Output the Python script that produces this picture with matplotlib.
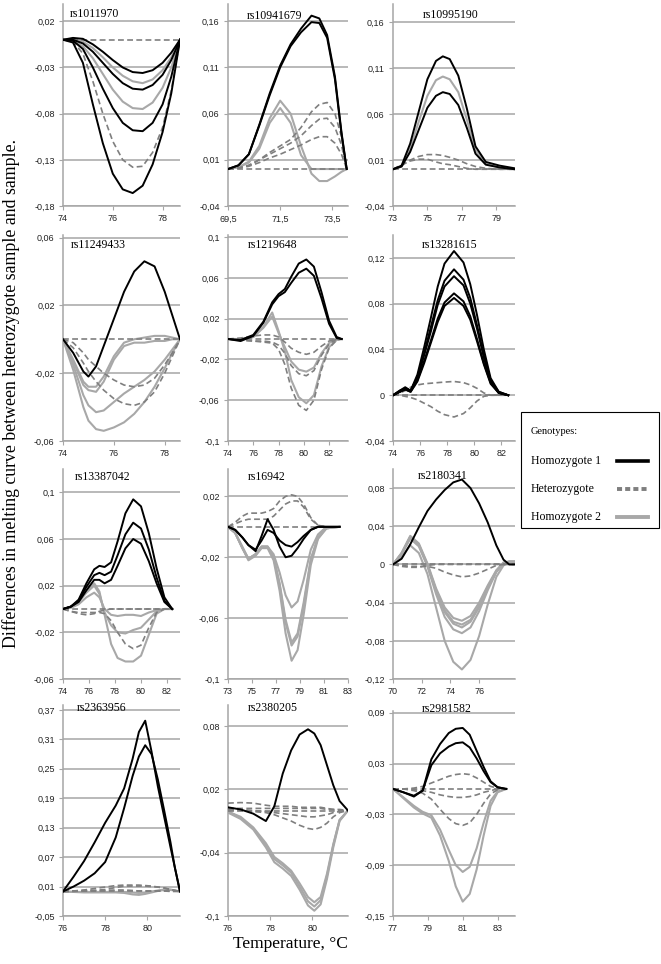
import matplotlib
matplotlib.use('Agg')
import matplotlib.pyplot as plt
from matplotlib.lines import Line2D
from matplotlib.patches import Rectangle

# ---- data (x = temperature, y = difference) ----
# rs1011970
p1_x = [74, 74.4, 74.8, 75.2, 75.6, 76.0, 76.4, 76.8, 77.2, 77.6, 78.0, 78.35, 78.7]
p1_hom1 = [[0, 0.002, 0.001, -0.005, -0.013, -0.022, -0.030, -0.035, -0.036, -0.033, -0.025, -0.014, 0],
           [0, 0.0, -0.004, -0.013, -0.025, -0.037, -0.047, -0.053, -0.054, -0.049, -0.038, -0.022, 0],
           [0, -0.001, -0.01, -0.03, -0.053, -0.074, -0.09, -0.098, -0.099, -0.09, -0.07, -0.04, 0],
           [0, -0.003, -0.025, -0.07, -0.112, -0.145, -0.162, -0.166, -0.158, -0.135, -0.1, -0.058, 0]]
p1_het = [[0] * 13,
          [0, -0.002, -0.015, -0.045, -0.08, -0.11, -0.13, -0.138, -0.137, -0.122, -0.095, -0.055, 0]]
p1_hom2 = [[0, 0.001, -0.002, -0.009, -0.019, -0.03, -0.039, -0.045, -0.047, -0.043, -0.033, -0.019, 0],
           [0, -0.001, -0.007, -0.02, -0.037, -0.054, -0.067, -0.074, -0.075, -0.068, -0.052, -0.03, 0]]

# rs10941679
p2_x = [69.5, 69.9, 70.3, 70.7, 71.1, 71.5, 71.9, 72.3, 72.7, 73.0, 73.3, 73.6, 73.85, 74.05]
p2_hom1 = [[0, 0.004, 0.016, 0.048, 0.082, 0.112, 0.135, 0.152, 0.166, 0.163, 0.145, 0.1, 0.04, 0],
           [0, 0.004, 0.016, 0.047, 0.08, 0.11, 0.133, 0.148, 0.159, 0.158, 0.142, 0.097, 0.038, 0]]
p2_het = [[0] * 14,
          [0, 0.001, 0.004, 0.01, 0.018, 0.025, 0.032, 0.045, 0.062, 0.07, 0.072, 0.06, 0.035, 0],
          [0, 0.001, 0.004, 0.01, 0.016, 0.022, 0.028, 0.036, 0.047, 0.054, 0.055, 0.045, 0.026, 0],
          [0, 0.001, 0.003, 0.007, 0.012, 0.016, 0.021, 0.026, 0.032, 0.035, 0.035, 0.028, 0.016, 0]]
p2_hom2 = [[0, 0.002, 0.008, 0.025, 0.055, 0.074, 0.06, 0.025, -0.005, -0.013, -0.013, -0.008, -0.003, 0],
           [0, 0.002, 0.007, 0.022, 0.05, 0.066, 0.05, 0.015, 0.0, 0, 0, 0, 0, 0]]

# rs10995190
p3_x = [73, 73.5, 74.0, 74.5, 75.0, 75.5, 75.9, 76.3, 76.8, 77.3, 77.8, 78.4, 79.2, 80.1]
p3_hom1 = [[0, 0.004, 0.028, 0.063, 0.098, 0.118, 0.123, 0.12, 0.102, 0.066, 0.025, 0.008, 0.004, 0.001],
           [0, 0.003, 0.019, 0.043, 0.067, 0.08, 0.084, 0.082, 0.07, 0.045, 0.017, 0.005, 0.002, 0.0]]
p3_het = [[0] * 14,
          [0, 0.004, 0.01, 0.014, 0.016, 0.016, 0.015, 0.013, 0.01, 0.006, 0.003, 0.001, 0, 0],
          [0, 0.005, 0.009, 0.011, 0.011, 0.008, 0.006, 0.005, 0.003, 0.001, 0, 0, 0, 0]]
p3_hom2 = [[0, 0.003, 0.023, 0.052, 0.08, 0.097, 0.101, 0.098, 0.084, 0.054, 0.021, 0.006, 0.002, 0.0]]

# rs11249433
p4_x = [74, 74.4, 74.8, 75.0, 75.3, 75.6, 76.0, 76.4, 76.8, 77.2, 77.6, 78.0, 78.3, 78.6]
p4_hom1 = [[0, -0.008, -0.019, -0.022, -0.016, -0.004, 0.012, 0.028, 0.04, 0.046, 0.043, 0.028, 0.014, 0]]
p4_het = [[0] * 14,
          [0, -0.002, -0.008, -0.012, -0.016, -0.02, -0.024, -0.027, -0.028, -0.027, -0.023, -0.015, -0.008, 0],
          [0, -0.005, -0.014, -0.019, -0.025, -0.03, -0.035, -0.038, -0.039, -0.037, -0.031, -0.02, -0.01, 0]]
p4_hom2 = [[0, -0.012, -0.025, -0.028, -0.028, -0.022, -0.01, -0.002, 0.0, 0.001, 0.002, 0.002, 0.001, 0],
           [0, -0.013, -0.027, -0.03, -0.031, -0.025, -0.012, -0.004, -0.002, -0.002, -0.001, -0.001, 0, 0],
           [0, -0.015, -0.033, -0.039, -0.043, -0.042, -0.037, -0.032, -0.028, -0.024, -0.019, -0.012, -0.006, 0],
           [0, -0.018, -0.04, -0.048, -0.053, -0.054, -0.052, -0.049, -0.044, -0.037, -0.028, -0.017, -0.008, 0]]

# rs1219648
p5_x = [74, 75, 76, 76.8, 77.5, 78.0, 78.5, 79.0, 79.6, 80.2, 80.8, 81.4, 82.0, 82.6, 83.0]
p5_hom1 = [[0, -0.001, 0.004, 0.017, 0.036, 0.044, 0.049, 0.061, 0.074, 0.078, 0.071, 0.046, 0.018, 0.002, 0],
           [0, -0.002, 0.003, 0.016, 0.034, 0.042, 0.046, 0.055, 0.065, 0.069, 0.062, 0.04, 0.015, 0.001, 0]]
p5_het = [[0] * 15,
          [0, -0.001, -0.002, -0.003, -0.004, -0.01, -0.025, -0.048, -0.065, -0.07, -0.06, -0.03, -0.009, -0.001, 0],
          [0, -0.001, -0.002, -0.002, -0.003, -0.006, -0.014, -0.026, -0.034, -0.036, -0.031, -0.016, -0.005, 0, 0],
          [0, 0.001, 0.003, 0.004, 0.004, 0.002, -0.003, -0.009, -0.013, -0.015, -0.013, -0.007, -0.002, 0, 0]]
p5_hom2 = [[0, 0.0, 0.002, 0.012, 0.026, 0.008, -0.012, -0.04, -0.057, -0.063, -0.055, -0.027, -0.008, -0.001, 0],
           [0, 0.0, 0.002, 0.011, 0.022, 0.006, -0.008, -0.022, -0.03, -0.032, -0.028, -0.014, -0.004, 0, 0]]

# rs13281615
p6_x = [74, 74.5, 74.9, 75.3, 75.8, 76.3, 76.8, 77.3, 77.8, 78.5, 79.2, 79.7, 80.2, 80.7, 81.2, 81.8, 82.5]
p6_hom1 = [[0, 0.004, 0.007, 0.004, 0.018, 0.042, 0.068, 0.095, 0.115, 0.126, 0.116, 0.097, 0.07, 0.04, 0.015, 0.003, 0],
           [0, 0.004, 0.006, 0.004, 0.016, 0.037, 0.06, 0.083, 0.1, 0.11, 0.101, 0.085, 0.061, 0.035, 0.013, 0.003, 0],
           [0, 0.003, 0.006, 0.004, 0.015, 0.035, 0.056, 0.079, 0.095, 0.104, 0.096, 0.08, 0.058, 0.033, 0.012, 0.002, 0],
           [0, 0.003, 0.005, 0.003, 0.013, 0.03, 0.048, 0.067, 0.081, 0.089, 0.082, 0.069, 0.049, 0.028, 0.011, 0.002, 0],
           [0, 0.003, 0.005, 0.003, 0.012, 0.028, 0.046, 0.064, 0.078, 0.085, 0.078, 0.066, 0.047, 0.027, 0.01, 0.002, 0]]
p6_het = [[0] * 17,
          [0, 0.002, 0.004, 0.007, 0.009, 0.01, 0.0105, 0.011, 0.0115, 0.012, 0.011, 0.009, 0.006, 0.002, 0, 0, 0],
          [0, 0.0, -0.001, -0.002, -0.004, -0.007, -0.01, -0.014, -0.017, -0.019, -0.016, -0.011, -0.005, -0.001, 0, 0, 0]]
p6_hom2 = []

# rs13387042
p7_x = [74, 74.6, 75.2, 75.8, 76.4, 76.8, 77.2, 77.7, 78.2, 78.8, 79.4, 80.0, 80.6, 81.2, 81.8, 82.4]
p7_hom1 = [[0, 0.002, 0.008, 0.022, 0.034, 0.037, 0.036, 0.04, 0.058, 0.082, 0.094, 0.088, 0.065, 0.035, 0.01, 0],
           [0, 0.002, 0.007, 0.019, 0.029, 0.031, 0.029, 0.032, 0.046, 0.064, 0.074, 0.069, 0.051, 0.027, 0.007, 0],
           [0, 0.002, 0.006, 0.016, 0.025, 0.025, 0.022, 0.025, 0.037, 0.052, 0.06, 0.056, 0.041, 0.022, 0.006, 0]]
p7_het = [[0] * 16,
          [0, -0.002, -0.003, -0.003, -0.003, -0.003, -0.004, -0.01, -0.02, -0.03, -0.034, -0.031, -0.016, -0.003, 0, 0],
          [0, -0.002, -0.004, -0.005, -0.004, -0.002, -0.001, 0, 0, 0, 0, 0, 0, 0, 0, 0]]
p7_hom2 = [[0, 0.002, 0.006, 0.015, 0.022, 0.015, -0.005, -0.03, -0.042, -0.045, -0.045, -0.04, -0.022, -0.004, 0, 0],
           [0, 0.002, 0.006, 0.014, 0.02, 0.013, -0.003, -0.014, -0.02, -0.021, -0.018, -0.016, -0.009, -0.002, 0, 0],
           [0, 0.001, 0.004, 0.01, 0.014, 0.01, 0.0, -0.005, -0.006, -0.005, -0.005, -0.006, -0.003, -0.001, 0, 0]]

# rs16942
p8_x = [73, 73.6, 74.2, 74.7, 75.3, 75.8, 76.3, 76.8, 77.3, 77.8, 78.3, 78.8, 79.3, 79.9, 80.5, 81.2, 82.3]
p8_hom1 = [[0, -0.002, -0.007, -0.012, -0.016, -0.006, 0.005, -0.002, -0.013, -0.02, -0.019, -0.014, -0.008, -0.002, 0, 0, 0],
           [0, -0.002, -0.007, -0.012, -0.015, -0.009, -0.002, -0.004, -0.009, -0.012, -0.013, -0.01, -0.006, -0.002, 0, 0, 0]]
p8_het = [[0] * 17,
          [0, 0.003, 0.007, 0.009, 0.009, 0.009, 0.01, 0.012, 0.017, 0.02, 0.021, 0.02, 0.015, 0.006, 0.001, 0, 0],
          [0, 0.002, 0.004, 0.005, 0.005, 0.005, 0.005, 0.007, 0.011, 0.015, 0.017, 0.017, 0.013, 0.005, 0.001, 0, 0]]
p8_hom2 = [[0, -0.004, -0.014, -0.022, -0.019, -0.014, -0.014, -0.022, -0.042, -0.07, -0.088, -0.081, -0.058, -0.025, -0.008, -0.001, 0],
           [0, -0.004, -0.014, -0.021, -0.018, -0.013, -0.013, -0.02, -0.038, -0.063, -0.078, -0.072, -0.052, -0.022, -0.007, -0.001, 0],
           [0, -0.004, -0.014, -0.021, -0.018, -0.013, -0.013, -0.02, -0.037, -0.061, -0.076, -0.07, -0.05, -0.021, -0.007, -0.001, 0],
           [0, -0.004, -0.013, -0.021, -0.018, -0.013, -0.013, -0.018, -0.03, -0.045, -0.053, -0.049, -0.035, -0.015, -0.005, 0, 0]]

# rs2180341
p9_x = [70, 70.6, 71.2, 71.8, 72.4, 73.0, 73.6, 74.2, 74.8, 75.4, 76.0, 76.6, 77.2, 77.7, 78.1, 78.5]
p9_hom1 = [[0, 0.006, 0.021, 0.039, 0.056, 0.068, 0.078, 0.086, 0.089, 0.08, 0.064, 0.044, 0.02, 0.005, 0.0, 0.0]]
p9_het = [[0] * 16,
          [0, -0.001, -0.002, -0.002, -0.002, -0.004, -0.008, -0.011, -0.013, -0.012, -0.009, -0.005, -0.001, 0, 0, 0],
          [0, -0.002, -0.003, -0.003, -0.001, 0, 0, 0, 0, 0, 0, 0, 0, 0, 0, 0]]
p9_hom2 = [[0, 0.012, 0.03, 0.022, 0.001, -0.025, -0.045, -0.056, -0.059, -0.054, -0.04, -0.022, -0.006, 0.002, 0.003, 0.003],
           [0, 0.012, 0.029, 0.021, 0.0, -0.027, -0.048, -0.06, -0.063, -0.058, -0.043, -0.024, -0.007, 0.002, 0.003, 0.003],
           [0, 0.011, 0.028, 0.02, -0.001, -0.028, -0.05, -0.062, -0.066, -0.06, -0.045, -0.025, -0.007, 0.001, 0.003, 0.003],
           [0, 0.011, 0.027, 0.019, -0.002, -0.031, -0.055, -0.068, -0.072, -0.066, -0.049, -0.027, -0.008, 0.001, 0.003, 0.003],
           [0, 0.008, 0.02, 0.012, -0.01, -0.045, -0.08, -0.102, -0.11, -0.1, -0.075, -0.042, -0.013, -0.001, 0.002, 0.002]]

# rs2363956
p10_x = [76, 76.5, 77, 77.5, 78, 78.5, 78.9, 79.3, 79.6, 79.9, 80.2, 80.5, 80.8, 81.1, 81.3, 81.55]
p10_hom1 = [[0, 0.03, 0.062, 0.1, 0.14, 0.175, 0.21, 0.27, 0.325, 0.348, 0.285, 0.214, 0.152, 0.09, 0.05, 0],
            [0, 0.01, 0.022, 0.037, 0.06, 0.11, 0.17, 0.235, 0.275, 0.298, 0.28, 0.228, 0.165, 0.1, 0.05, 0]]
p10_het = [[0] * 16,
           [0, 0.001, 0.003, 0.006, 0.009, 0.012, 0.013, 0.013, 0.013, 0.012, 0.011, 0.009, 0.007, 0.004, 0.002, 0],
           [0, 0.0, 0.001, 0.002, 0.004, 0.008, 0.011, 0.011, 0.011, 0.011, 0.01, 0.009, 0.007, 0.004, 0.002, 0],
           [0, 0.001, 0.002, 0.002, 0.002, 0.003, 0.003, 0.002, 0.001, 0.001, 0.001, 0.001, 0.001, 0, 0, 0]]
p10_hom2 = [[0, -0.001, -0.002, -0.002, -0.002, -0.002, -0.003, -0.006, -0.007, -0.005, -0.002, 0.001, 0.003, 0.003, 0.002, 0],
            [0, -0.001, -0.001, -0.001, -0.001, -0.001, -0.001, -0.002, -0.003, -0.002, 0.0, 0.002, 0.004, 0.004, 0.002, 0]]

# rs2380205
p11_x = [76, 76.6, 77.2, 77.8, 78.2, 78.6, 79.0, 79.4, 79.8, 80.1, 80.4, 80.7, 81.0, 81.3, 81.7]
p11_hom1 = [[0.003, 0.001, -0.003, -0.01, 0.004, 0.035, 0.057, 0.072, 0.077, 0.073, 0.062, 0.043, 0.024, 0.009, 0]]
p11_het = [[0.0] * 15,
           [0.007, 0.0075, 0.007, 0.005, 0.004, 0.004, 0.004, 0.003, 0.003, 0.003, 0.003, 0.002, 0.001, 0.001, 0],
           [0.002, 0.002, 0.002, 0.002, 0.002, 0.002, 0.002, 0.002, 0.002, 0.002, 0.002, 0.001, 0.001, 0, 0],
           [0.001, 0.001, 0.0, -0.001, -0.002, -0.003, -0.004, -0.005, -0.006, -0.006, -0.005, -0.004, -0.002, -0.001, 0],
           [0.0, 0.0, -0.001, -0.002, -0.004, -0.007, -0.01, -0.014, -0.017, -0.018, -0.016, -0.012, -0.006, -0.002, 0]]
p11_hom2 = [[-0.001, -0.006, -0.016, -0.031, -0.044, -0.05, -0.057, -0.069, -0.082, -0.087, -0.082, -0.06, -0.032, -0.009, 0],
            [-0.001, -0.007, -0.017, -0.033, -0.046, -0.052, -0.059, -0.072, -0.086, -0.091, -0.085, -0.062, -0.033, -0.009, 0],
            [-0.002, -0.008, -0.018, -0.035, -0.049, -0.055, -0.062, -0.075, -0.09, -0.095, -0.089, -0.065, -0.035, -0.01, 0]]

# rs2981582
p12_x = [77, 77.6, 78.2, 78.7, 79.2, 79.7, 80.2, 80.6, 81.0, 81.4, 81.8, 82.2, 82.6, 83.0, 83.5]
p12_hom1 = [[0, -0.004, -0.009, -0.002, 0.035, 0.053, 0.066, 0.071, 0.072, 0.064, 0.045, 0.026, 0.009, 0.002, 0],
            [0, -0.004, -0.008, -0.002, 0.028, 0.042, 0.05, 0.054, 0.055, 0.049, 0.036, 0.021, 0.008, 0.002, 0]]
p12_het = [[0] * 15,
           [0, 0, 0.001, 0.003, 0.007, 0.011, 0.015, 0.017, 0.018, 0.017, 0.013, 0.008, 0.003, 0.001, 0],
           [0, 0, -0.001, -0.002, -0.004, -0.007, -0.009, -0.01, -0.01, -0.009, -0.007, -0.004, -0.002, 0, 0],
           [0, 0, -0.002, -0.005, -0.012, -0.024, -0.035, -0.041, -0.043, -0.04, -0.03, -0.017, -0.006, -0.001, 0]]
p12_hom2 = [[0, -0.01, -0.02, -0.027, -0.031, -0.048, -0.072, -0.09, -0.098, -0.092, -0.07, -0.04, -0.014, -0.003, 0],
            [0, -0.011, -0.022, -0.029, -0.034, -0.055, -0.085, -0.115, -0.133, -0.124, -0.095, -0.055, -0.02, -0.004, 0]]

snp_names = ['rs1011970', 'rs10941679', 'rs10995190', 'rs11249433', 'rs1219648', 'rs13281615',
             'rs13387042', 'rs16942', 'rs2180341', 'rs2363956', 'rs2380205', 'rs2981582']
x_ticks = [[74, 76, 78], [69.5, 71.5, 73.5], [73, 75, 77, 79],
           [74, 76, 78], [74, 76, 78, 80, 82], [74, 76, 78, 80, 82],
           [74, 76, 78, 80, 82], [73, 75, 77, 79, 81, 83], [70, 72, 74, 76],
           [76, 78, 80], [76, 78, 80], [77, 79, 81, 83]]
y_ticks = [[-0.18, -0.13, -0.08, -0.03, 0.02], [-0.04, 0.01, 0.06, 0.11, 0.16], [-0.04, 0.01, 0.06, 0.11, 0.16],
           [-0.06, -0.02, 0.02, 0.06], [-0.1, -0.06, -0.02, 0.02, 0.06, 0.1], [-0.04, 0, 0.04, 0.08, 0.12],
           [-0.06, -0.02, 0.02, 0.06, 0.1], [-0.1, -0.06, -0.02, 0.02], [-0.12, -0.08, -0.04, 0, 0.04, 0.08],
           [-0.05, 0.01, 0.07, 0.13, 0.19, 0.25, 0.31, 0.37], [-0.1, -0.04, 0.02, 0.08], [-0.15, -0.09, -0.03, 0.03, 0.09]]
legend_labels = ['Homozygote 1', 'Heterozygote', 'Homozygote 2']

panels = [(p1_x, p1_hom1, p1_het, p1_hom2), (p2_x, p2_hom1, p2_het, p2_hom2), (p3_x, p3_hom1, p3_het, p3_hom2),
          (p4_x, p4_hom1, p4_het, p4_hom2), (p5_x, p5_hom1, p5_het, p5_hom2), (p6_x, p6_hom1, p6_het, p6_hom2),
          (p7_x, p7_hom1, p7_het, p7_hom2), (p8_x, p8_hom1, p8_het, p8_hom2), (p9_x, p9_hom1, p9_het, p9_hom2),
          (p10_x, p10_hom1, p10_het, p10_hom2), (p11_x, p11_hom1, p11_het, p11_hom2), (p12_x, p12_hom1, p12_het, p12_hom2)]

# ---- layout (pixels) ----
W, H = 661, 964
xlims = [(74, 78.7), (69.5, 74.1), (73, 80.1), (74, 78.6), (74, 83.5), (74, 83),
         (74, 83), (73, 83), (70, 78.5), (76, 81.55), (76, 81.7), (77, 84)]
ytops = [0.0387, 0.1786, 0.18, 0.0615, 0.102, 0.14, 0.12, 0.038, 0.1, 0.38, 0.1, 0.092]
cols = [(63, 180), (228, 348), (393, 515)]
rows = [(4, 206), (235, 441), (469, 679), (705, 916)]
title_pos = [(94, 14), (275, 16), (451, 15), (98, 245), (273, 245), (450, 245),
             (103, 477), (267, 477), (443, 476), (102, 708), (273, 708), (447, 709)]

plt.rcParams['font.family'] = ['Liberation Sans', 'DejaVu Sans']
fig = plt.figure(figsize=(W / 100, H / 100), dpi=100)

BLACK, DASH, LIGHT, GRID = '#000000', '#7f7f7f', '#a8a8a8', '#a6a6a6'


def fmt(v):
    return f'{v:g}'.replace('.', ',')


for i, (xs, hom1, het, hom2) in enumerate(panels):
    r, c = divmod(i, 3)
    l, rr = cols[c]
    t, b = rows[r]
    if i == 11:
        t = 711
    ax = fig.add_axes([l / W, 1 - b / H, (rr - l) / W, (b - t) / H])
    for ys in hom2:
        ax.plot(xs, ys, color=LIGHT, lw=1.5, solid_joinstyle='round', zorder=3)
    for ys in het:
        ax.plot(xs, ys, color=DASH, lw=1.2, dashes=(3.5, 2), zorder=4)
    for ys in hom1:
        ax.plot(xs, ys, color=BLACK, lw=1.4, solid_joinstyle='round', zorder=5)
    ax.set_xlim(*xlims[i])
    ax.set_ylim(y_ticks[i][0], ytops[i])
    ax.set_xticks(x_ticks[i])
    ax.set_xticklabels([fmt(v) for v in x_ticks[i]])
    ax.set_yticks(y_ticks[i])
    ax.set_yticklabels([fmt(v) for v in y_ticks[i]])
    ax.grid(axis='y', color=GRID, lw=1.1)
    ax.set_axisbelow(True)
    for s in ['top', 'right']:
        ax.spines[s].set_visible(False)
    for s in ['left', 'bottom']:
        ax.spines[s].set_color(GRID)
        ax.spines[s].set_linewidth(1.1)
    ax.tick_params(axis='both', labelsize=6.5, colors=GRID, labelcolor='#222222',
                   length=3, width=0.8, pad=3)
    ax.set_facecolor('none')
    fig.text(title_pos[i][0] / W, 1 - title_pos[i][1] / H, snp_names[i],
             family='Liberation Serif', fontsize=8.5, ha='center', va='center')

fig.text(11 / W, 1 - 393 / H, 'Differences in melting curve between heterozygote sample and sample.',
         family='Liberation Serif', fontsize=12.8, rotation=90, ha='center', va='center')
fig.text(290 / W, 1 - 944 / H, 'Temperature, \u00b0C', family='Liberation Serif',
         fontsize=12.5, ha='center', va='center')

# legend box
fig.add_artist(Rectangle((521 / W, 1 - 528 / H), 138 / W, 116 / H, transform=fig.transFigure,
                         fill=False, edgecolor='black', lw=0.8))
fig.text(531 / W, 1 - 431 / H, 'Genotypes:', family='Liberation Serif', fontsize=7.5, va='center')
leg_styles = [dict(color=BLACK, lw=2.6), dict(color=DASH, lw=2.8, dashes=(1.3, 0.8)),
              dict(color=LIGHT, lw=2.8)]
for k, lab in enumerate(legend_labels):
    yy = 1 - (461 + 28 * k) / H
    fig.text(531 / W, yy, lab, family='Liberation Serif', fontsize=8.5, va='center')
    fig.add_artist(Line2D([617 / W, 648 / W], [yy, yy], transform=fig.transFigure, **leg_styles[k]))

fig.savefig('out.png', dpi=100)
